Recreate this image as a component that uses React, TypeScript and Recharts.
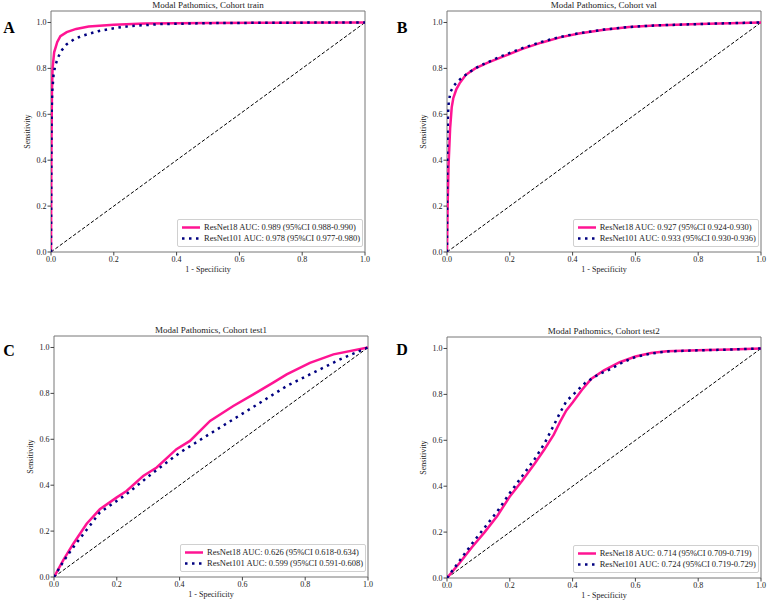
import React from 'react';
import { LineChart, Line, XAxis, YAxis, ReferenceArea, Legend } from 'recharts';

type Pair = [number, number];

const axisTicks = [0, 0.2, 0.4, 0.6, 0.8, 1.0];
const chanceLine: Pair[] = [[0, 0], [1, 1]];

// [1 - specificity, sensitivity]
const trainResNet18: Pair[] = [
  [0, 0], [0.001, 0.4], [0.003, 0.7], [0.005, 0.8], [0.01, 0.87], [0.02, 0.915], [0.03, 0.94],
  [0.05, 0.958], [0.08, 0.972], [0.12, 0.982], [0.2, 0.99], [0.3, 0.995], [0.5, 0.998], [0.7, 0.999], [1, 1],
];
const trainResNet101: Pair[] = [
  [0, 0], [0.001, 0.35], [0.002, 0.6], [0.004, 0.7], [0.008, 0.77], [0.013, 0.81], [0.023, 0.85],
  [0.035, 0.88], [0.05, 0.905], [0.075, 0.928], [0.1, 0.942], [0.15, 0.962], [0.2, 0.975], [0.25, 0.984],
  [0.35, 0.993], [0.5, 0.997], [0.7, 0.999], [1, 1],
];

const valResNet18: Pair[] = [
  [0, 0], [0.002, 0.2], [0.005, 0.38], [0.01, 0.54], [0.015, 0.63], [0.02, 0.67], [0.03, 0.71],
  [0.04, 0.735], [0.06, 0.772], [0.09, 0.8], [0.13, 0.825], [0.18, 0.852], [0.24, 0.885], [0.3, 0.912],
  [0.36, 0.935], [0.42, 0.952], [0.5, 0.968], [0.58, 0.98], [0.66, 0.987], [0.8, 0.993], [0.9, 0.997], [1, 1],
];
const valResNet101: Pair[] = [
  [0, 0], [0.001, 0.45], [0.003, 0.6], [0.006, 0.66], [0.012, 0.7], [0.022, 0.725], [0.035, 0.745],
  [0.05, 0.762], [0.075, 0.787], [0.1, 0.808], [0.14, 0.833], [0.18, 0.857], [0.24, 0.888], [0.3, 0.915],
  [0.36, 0.937], [0.42, 0.953], [0.5, 0.969], [0.58, 0.98], [0.66, 0.987], [0.8, 0.993], [0.9, 0.997], [1, 1],
];

const test1ResNet18: Pair[] = [
  [0, 0], [0.03, 0.075], [0.061, 0.144], [0.104, 0.232], [0.146, 0.295], [0.2, 0.347], [0.231, 0.375],
  [0.284, 0.44], [0.327, 0.477], [0.39, 0.557], [0.433, 0.593], [0.497, 0.68], [0.571, 0.745],
  [0.635, 0.796], [0.698, 0.847], [0.741, 0.883], [0.815, 0.933], [0.89, 0.97], [1, 1],
];
const test1ResNet101: Pair[] = [
  [0, 0], [0.03, 0.068], [0.061, 0.129], [0.146, 0.281], [0.231, 0.361], [0.316, 0.455], [0.401, 0.542],
  [0.486, 0.615], [0.571, 0.687], [0.656, 0.759], [0.741, 0.832], [0.826, 0.89], [0.911, 0.948], [1, 1],
];

const test2ResNet18: Pair[] = [
  [0, 0], [0.04, 0.065], [0.08, 0.135], [0.12, 0.2], [0.16, 0.27], [0.2, 0.355], [0.24, 0.425],
  [0.28, 0.5], [0.31, 0.56], [0.34, 0.625], [0.36, 0.68], [0.38, 0.73], [0.4, 0.765], [0.43, 0.82],
  [0.46, 0.868], [0.5, 0.905], [0.55, 0.94], [0.6, 0.965], [0.65, 0.98], [0.7, 0.988], [0.8, 0.992],
  [0.9, 0.995], [1, 1],
];
const test2ResNet101: Pair[] = [
  [0, 0], [0.04, 0.075], [0.08, 0.15], [0.12, 0.22], [0.16, 0.29], [0.2, 0.37], [0.24, 0.445],
  [0.28, 0.52], [0.31, 0.585], [0.34, 0.665], [0.36, 0.72], [0.38, 0.77], [0.41, 0.81], [0.44, 0.85],
  [0.48, 0.885], [0.52, 0.91], [0.56, 0.94], [0.6, 0.963], [0.65, 0.978], [0.7, 0.987], [0.8, 0.992],
  [0.9, 0.995], [1, 1],
];

const PINK = '#ff1493';
const NAVY = '#000080';
const FONT = '"Liberation Serif", "Times New Roman", serif';

const toPoints = (pairs: Pair[]) => pairs.map(([fpr, tpr]) => ({ fpr, tpr }));

type PanelProps = {
  left: number;
  top: number;
  letter: string;
  letterPos: [number, number];
  title: string;
  r18: Pair[];
  r101: Pair[];
  r18Label: string;
  r101Label: string;
};

const W = 371;
const H = 275;

const RocLegend = ({ r18Label, r101Label }: { r18Label: string; r101Label: string }) => (
  <div
    style={{
      background: 'rgba(255,255,255,0.85)',
      border: '1px solid #d0d0d0',
      borderRadius: 2,
      padding: '2px 0',
      fontFamily: FONT,
      fontSize: 8.5,
      color: '#222',
      lineHeight: '11px',
    }}
  >
    <div style={{ display: 'flex', alignItems: 'center' }}>
      <svg width={26} height={11}>
        <line x1={4} x2={22} y1={5.5} y2={5.5} stroke={PINK} strokeWidth={2.5} />
      </svg>
      <span>{r18Label}</span>
    </div>
    <div style={{ display: 'flex', alignItems: 'center' }}>
      <svg width={26} height={11}>
        <line x1={4} x2={22} y1={5.5} y2={5.5} stroke={NAVY} strokeWidth={2.5} strokeDasharray="2.5 4.5" />
      </svg>
      <span>{r101Label}</span>
    </div>
  </div>
);

const RocPanel = (p: PanelProps) => (
  <>
    <div style={{ position: 'absolute', left: p.left, top: p.top, width: W, height: H }}>
      <div
        style={{
          position: 'absolute', left: 51, width: 314, top: -1, textAlign: 'center',
          fontFamily: FONT, fontSize: 9, color: '#222', lineHeight: '12px',
        }}
      >
        {p.title}
      </div>
      <LineChart width={W} height={H} margin={{ top: 11, right: 6, left: 21, bottom: 3 }}>
        <XAxis
          type="number"
          dataKey="fpr"
          domain={[0, 1]}
          ticks={axisTicks}
          tickFormatter={(v: number) => v.toFixed(1)}
          height={20}
          axisLine={false}
          tickSize={3.5}
          tickMargin={1}
          tickLine={{ stroke: '#444' }}
          tick={{ fontFamily: FONT, fontSize: 8, fill: '#222' }}
          allowDataOverflow
          label={{ value: '1 - Specificity', position: 'insideBottom', offset: 0, style: { fontFamily: FONT, fontSize: 8, fill: '#222' } }}
        />
        <YAxis
          type="number"
          domain={[0, 1.05]}
          ticks={axisTicks}
          tickFormatter={(v: number) => v.toFixed(1)}
          width={30}
          axisLine={false}
          tickSize={3.5}
          tickMargin={1}
          tickLine={{ stroke: '#444' }}
          tick={{ fontFamily: FONT, fontSize: 8, fill: '#222' }}
          allowDataOverflow
          label={{ value: 'Sensitivity', angle: -90, position: 'insideLeft', offset: 6, style: { fontFamily: FONT, fontSize: 8, fill: '#222', textAnchor: 'middle' } }}
        />
        <ReferenceArea x1={0} x2={1} y1={0} y2={1.05} fill="none" stroke="#777" strokeWidth={1} />
        <Line
          data={toPoints(chanceLine)}
          dataKey="tpr"
          type="linear"
          stroke="#000"
          strokeWidth={1}
          strokeDasharray="3.5 2"
          dot={false}
          isAnimationActive={false}
        />
        <Line
          data={toPoints(p.r18)}
          dataKey="tpr"
          type="linear"
          stroke={PINK}
          strokeWidth={2.5}
          dot={false}
          isAnimationActive={false}
        />
        <Line
          data={toPoints(p.r101)}
          dataKey="tpr"
          type="linear"
          stroke={NAVY}
          strokeWidth={2.5}
          strokeDasharray="2.5 4.5"
          dot={false}
          isAnimationActive={false}
        />
        <Legend
          layout="horizontal"
          verticalAlign="middle"
          align="center"
          wrapperStyle={{ left: 177, top: 219, width: 186, height: 'auto' }}
          content={() => <RocLegend r18Label={p.r18Label} r101Label={p.r101Label} />}
        />
      </LineChart>
    </div>
    <div
      style={{
        position: 'absolute', left: p.letterPos[0] - 10, top: p.letterPos[1] - 8, width: 20,
        textAlign: 'center', fontFamily: FONT, fontWeight: 'bold', fontSize: 16, lineHeight: 1, color: '#000',
      }}
    >
      {p.letter}
    </div>
  </>
);

const App = () => (
  <div style={{ position: 'absolute', left: 0, top: 0, width: 767, height: 600, background: '#fff', overflow: 'hidden' }}>
    <RocPanel
      left={0} top={0} letter="A" letterPos={[9, 28]}
      title="Modal Pathomics, Cohort train"
      r18={trainResNet18} r101={trainResNet101}
      r18Label="ResNet18 AUC: 0.989 (95%CI 0.988-0.990)"
      r101Label="ResNet101 AUC: 0.978 (95%CI 0.977-0.980)"
    />
    <RocPanel
      left={395.7} top={0} letter="B" letterPos={[402, 28]}
      title="Modal Pathomics, Cohort val"
      r18={valResNet18} r101={valResNet101}
      r18Label="ResNet18 AUC: 0.927 (95%CI 0.924-0.930)"
      r101Label="ResNet101 AUC: 0.933 (95%CI 0.930-0.936)"
    />
    <RocPanel
      left={3} top={325} letter="C" letterPos={[9, 351]}
      title="Modal Pathomics, Cohort test1"
      r18={test1ResNet18} r101={test1ResNet101}
      r18Label="ResNet18 AUC: 0.626 (95%CI 0.618-0.634)"
      r101Label="ResNet101 AUC: 0.599 (95%CI 0.591-0.608)"
    />
    <RocPanel
      left={395.7} top={325.5} letter="D" letterPos={[402, 350]}
      title="Modal Pathomics, Cohort test2"
      r18={test2ResNet18} r101={test2ResNet101}
      r18Label="ResNet18 AUC: 0.714 (95%CI 0.709-0.719)"
      r101Label="ResNet101 AUC: 0.724 (95%CI 0.719-0.729)"
    />
  </div>
);

export default App;
